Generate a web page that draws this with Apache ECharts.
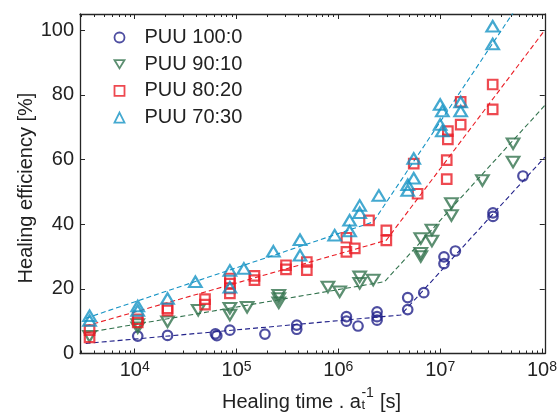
<!DOCTYPE html>
<html>
<head>
<meta charset="utf-8">
<script src="https://cdn.jsdelivr.net/npm/echarts@6/dist/echarts.min.js"></script>
<style>
  html, body { margin: 0; padding: 0; background: #fff; }
  #chart { width: 560px; height: 420px; }
</style>
</head>
<body>
<div id="chart"></div>
<script>
// Healing efficiency [%] against shifted healing time (s), four PUU blends
const seriesNames = ['PUU 100:0', 'PUU 90:10', 'PUU 80:20', 'PUU 70:30'];

const puu100 = [
  [1.07e4, 5.4], [2.1e4, 5.6], [6.2e4, 6.1], [6.4e4, 5.5], [8.6e4, 7.2],
  [1.9e5, 6.0], [3.9e5, 8.8], [3.9e5, 7.5], [1.2e6, 11.4], [1.2e6, 10.0],
  [1.56e6, 8.5], [2.4e6, 12.9], [2.4e6, 11.4], [2.4e6, 10.3],
  [4.8e6, 17.3], [4.8e6, 13.6], [6.9e6, 18.8], [1.09e7, 29.9], [1.09e7, 27.8],
  [1.41e7, 31.7], [3.3e7, 43.5], [3.3e7, 42.4], [6.5e7, 54.9]
];
const puu90 = [
  [3.6e3, 5.3], [1.07e4, 9.0], [1.07e4, 8.0], [2.1e4, 9.8], [4.2e4, 13.4],
  [8.6e4, 14.0], [8.6e4, 11.9], [1.27e5, 14.3], [2.6e5, 18.0], [2.6e5, 17.0],
  [2.6e5, 15.7], [7.9e5, 20.6], [1.03e6, 19.1], [1.62e6, 23.7], [1.62e6, 21.7],
  [2.2e6, 22.7], [6.45e6, 35.6], [6.45e6, 31.0], [6.45e6, 30.0], [8.3e6, 38.2],
  [8.3e6, 34.8], [1.29e7, 46.4], [1.29e7, 42.7], [2.6e7, 53.5], [5.2e7, 64.9],
  [5.2e7, 59.2]
];
const puu80 = [
  [3.6e3, 7.2], [3.6e3, 5.0], [1.07e4, 10.6], [1.07e4, 9.6], [2.1e4, 14.0],
  [2.1e4, 13.3], [4.9e4, 16.8], [4.9e4, 15.1], [8.6e4, 23.2], [8.6e4, 21.6],
  [8.6e4, 20.1], [8.6e4, 18.6], [1.5e5, 24.0], [1.5e5, 22.7], [3.06e5, 27.3],
  [3.06e5, 26.0], [4.9e5, 28.3], [4.9e5, 25.8], [1.2e6, 35.8], [1.2e6, 31.4],
  [1.45e6, 32.5], [2.0e6, 41.2], [2.96e6, 38.1], [2.96e6, 35.0], [6.0e6, 49.4],
  [5.5e6, 58.7], [1.16e7, 59.8], [1.16e7, 53.9], [1.19e7, 68.8], [1.19e7, 66.2],
  [1.59e7, 77.8], [1.59e7, 70.8], [3.28e7, 83.2], [3.28e7, 75.5]
];
const puu70 = [
  [3.6e3, 11.7], [3.6e3, 10.2], [1.07e4, 14.7], [1.07e4, 13.3], [2.1e4, 17.0],
  [3.94e4, 22.2], [8.6e4, 25.7], [8.6e4, 20.5], [1.18e5, 26.3], [2.3e5, 31.6],
  [4.2e5, 35.2], [4.2e5, 30.4], [9.2e5, 36.6], [1.29e6, 41.2], [1.29e6, 37.9],
  [1.62e6, 45.8], [1.62e6, 43.5], [2.5e6, 48.9], [4.8e6, 52.2], [4.8e6, 50.4],
  [5.5e6, 54.2], [5.5e6, 60.3], [1.0e7, 77.0], [1.05e7, 75.0], [1.0e7, 70.8],
  [1.05e7, 68.8], [1.59e7, 77.8], [1.59e7, 75.0], [3.28e7, 101.2], [3.28e7, 95.7]
];

// Two-segment fits (start, knee, end)
const fit100 = [[3.3e3, 3.1], [4.1e6, 11.9], [1.065e8, 60.7]];
const fit90 = [[3.3e3, 6.4], [2.84e6, 22.2], [1.065e8, 76.7]];
const fit80 = [[3.3e3, 8.5], [2.95e6, 35.0], [1.065e8, 100.0]];
const fit70 = [[3.3e3, 10.9], [2.2e6, 40.7], [1.065e8, 120.0]];

const xMajorTicks = [1e4, 1e5, 1e6, 1e7, 1e8];
const yTicks = [0, 20, 40, 60, 80, 100];

const colors = ['#22228a', '#33734e', '#ea1c24', '#1593c4'];
const FONT = '"Liberation Sans", Arial, Helvetica, sans-serif';
const TEXT = '#222';
const AXIS = '#262626';
const X_MIN = 2900, X_MAX = 1.065e8;

const xMinorTicks = [];
for (let e = 3; e <= 7; e++) {
  for (let m = 2; m <= 9; m++) {
    const v = m * Math.pow(10, e);
    if (v >= X_MIN && v <= X_MAX) xMinorTicks.push(v);
  }
}

function xAxisDef(position, ticks, len, withLabels, withLine) {
  return {
    type: 'log', logBase: 10, min: X_MIN, max: X_MAX, position: position,
    axisLine: { show: withLine, lineStyle: { color: AXIS, width: 1.3 } },
    axisTick: { show: true, inside: true, length: len, customValues: ticks,
      lineStyle: { color: AXIS, width: 1 } },
    splitLine: { show: false },
    minorTick: { show: false },
    axisLabel: withLabels ? {
      customValues: ticks, margin: 7,
      formatter: v => '{b|10}{s|' + Math.round(Math.log10(v)) + '}',
      rich: {
        b: { fontSize: 20, fontFamily: FONT, color: TEXT, verticalAlign: 'bottom', lineHeight: 20 },
        s: { fontSize: 14, fontFamily: FONT, color: TEXT, verticalAlign: 'top', lineHeight: 14, padding: [0, 0, 13, 0] }
      }
    } : { show: false }
  };
}

function yAxisDef(position, withLabels) {
  return {
    type: 'value', min: 0, max: 105, position: position,
    axisLine: { show: true, lineStyle: { color: AXIS, width: 1.3 } },
    axisTick: { show: true, inside: true, length: 5, customValues: yTicks,
      lineStyle: { color: AXIS, width: 1 } },
    splitLine: { show: false },
    axisLabel: withLabels ? {
      customValues: yTicks, margin: 6, fontSize: 20, fontFamily: FONT, color: TEXT
    } : { show: false }
  };
}

const markerDefs = [
  { data: puu100, symbol: 'circle', size: 9.5, rotate: 0 },
  { data: puu90, symbol: 'triangle', size: [12.5, 10.5], rotate: 180 },
  { data: puu80, symbol: 'rect', size: 9.5, rotate: 0 },
  { data: puu70, symbol: 'triangle', size: [12.5, 10.5], rotate: 0 }
];
const fits = [fit100, fit90, fit80, fit70];

const series = [];
fits.forEach((f, i) => {
  series.push({
    type: 'line', data: f, symbol: 'none', silent: true, clip: true, z: 2,
    lineStyle: { color: colors[i], width: 1.1, type: [5, 3] }
  });
});
markerDefs.forEach((m, i) => {
  series.push({
    name: seriesNames[i], type: 'scatter', data: m.data, z: 3,
    symbol: m.symbol, symbolSize: m.size, symbolRotate: m.rotate,
    itemStyle: { color: 'none', borderColor: colors[i], borderWidth: 2.2 }
  });
});

// Legend entries; the 90:10 key uses a downward-pointing triangle outline
const legendItems = [
  { name: seriesNames[0] },
  { name: seriesNames[1], icon: 'path://M0,0L12,0L6,10Z' },
  { name: seriesNames[2] },
  { name: seriesNames[3] }
];

// x-axis title: "Healing time . a" + stacked sub/superscript + " [s]"
const ctx = document.createElement('canvas').getContext('2d');
function textWidth(str, size) { ctx.font = size + 'px ' + FONT; return ctx.measureText(str).width; }
const xTitleMain = 'Healing time . a';
const xTitleSub = 't';
const xTitleSup = '-1';
const xTitleTail = ' [s]';
const xTitleLeft = 222;
const xTitleMid = 402.5;
const scriptX = xTitleLeft + textWidth(xTitleMain, 20) + 0.5;
const tailX = scriptX + Math.max(textWidth(xTitleSup, 14), textWidth(xTitleSub, 13)) + 0.5;

const chart = echarts.init(document.getElementById('chart'), null, { renderer: 'canvas' });
chart.setOption({
  animation: false,
  backgroundColor: '#fff',
  grid: { left: 80, right: 12, top: 14, bottom: 66.5, containLabel: false },
  xAxis: [
    xAxisDef('bottom', xMajorTicks, 5, true, true),
    xAxisDef('bottom', xMinorTicks, 3, false, false),
    xAxisDef('top', xMajorTicks, 5, false, true),
    xAxisDef('top', xMinorTicks, 3, false, false)
  ],
  yAxis: [yAxisDef('left', true), yAxisDef('right', false)],
  legend: {
    data: legendItems, orient: 'vertical', left: 112, top: 27.5, padding: 0,
    itemWidth: 10, itemHeight: 10, itemGap: 6.7,
    textStyle: { fontSize: 20, fontFamily: FONT, color: TEXT, padding: [0, 0, 0, 15] },
    itemStyle: { borderWidth: 1.8 }
  },
  graphic: [
    { type: 'text', x: 26, y: 188, rotation: Math.PI / 2,
      style: { text: 'Healing efficiency [%]', font: '20px ' + FONT, fill: TEXT,
        align: 'center', verticalAlign: 'middle' } },
    { type: 'text', x: xTitleLeft, y: xTitleMid,
      style: { text: xTitleMain, font: '20px ' + FONT, fill: TEXT, align: 'left', verticalAlign: 'middle' } },
    { type: 'text', x: scriptX, y: xTitleMid - 9,
      style: { text: xTitleSup, font: '14px ' + FONT, fill: TEXT, align: 'left', verticalAlign: 'middle' } },
    { type: 'text', x: scriptX, y: xTitleMid + 3,
      style: { text: xTitleSub, font: '13px ' + FONT, fill: TEXT, align: 'left', verticalAlign: 'middle' } },
    { type: 'text', x: tailX, y: xTitleMid,
      style: { text: xTitleTail, font: '20px ' + FONT, fill: TEXT, align: 'left', verticalAlign: 'middle' } }
  ],
  series: series
});
</script>
</body>
</html>
